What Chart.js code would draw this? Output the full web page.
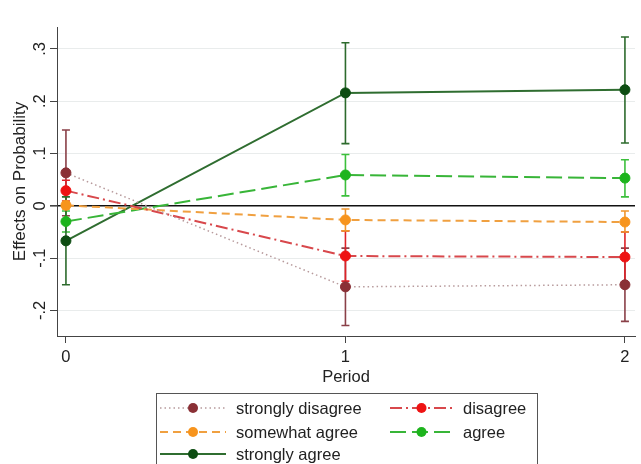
<!DOCTYPE html>
<html>
<head>
<meta charset="utf-8">
<script src="https://cdn.jsdelivr.net/npm/chart.js@4.4.1/dist/chart.umd.min.js"></script>
<style>
  html, body { margin: 0; padding: 0; background: #fff; }
  #wrap { width: 641px; height: 464px; position: relative; }
</style>
</head>
<body>
<div id="wrap"><canvas id="c" width="641" height="464"></canvas></div>
<script>
// Periods on the x axis and tick labels
const periods = [0, 1, 2];
const xTickLabels = ['0', '1', '2'];
const yTickValues = [-0.2, -0.1, 0, 0.1, 0.2, 0.3];
const yTickLabels = ['-.2', '-.1', '0', '.1', '.2', '.3'];

const seriesNames = ['strongly disagree', 'disagree', 'somewhat agree', 'agree', 'strongly agree'];

// Point estimates per period
const stronglyDisagree = [0.063, -0.155, -0.151];
const disagree         = [0.029, -0.096, -0.098];
const somewhatAgree    = [0.001, -0.027, -0.031];
const agree            = [-0.030, 0.059, 0.053];
const stronglyAgree    = [-0.067, 0.216, 0.222];

// Confidence interval bounds per period
const stronglyDisagreeLo = [-0.019, -0.229, -0.221];
const stronglyDisagreeHi = [0.145, -0.081, -0.081];
const disagreeLo         = [0.009, -0.144, -0.146];
const disagreeHi         = [0.049, -0.048, -0.050];
const somewhatAgreeLo    = [-0.006, -0.048, -0.050];
const somewhatAgreeHi    = [0.008, -0.006, -0.010];
const agreeLo            = [-0.050, 0.019, 0.017];
const agreeHi            = [-0.010, 0.098, 0.088];
const stronglyAgreeLo    = [-0.151, 0.119, 0.120];
const stronglyAgreeHi    = [0.017, 0.312, 0.323];

const styles = [
  { line: '#b79a9c', marker: '#8a3036', bar: '#8a4048', dash: [1.5, 3], width: 1.5 },
  { line: '#d8484c', marker: '#ee1313', bar: '#de2228', dash: [12, 4, 2, 4], width: 2 },
  { line: '#f0a040', marker: '#f7941d', bar: '#f0952b', dash: [8, 5], width: 2 },
  { line: '#38b538', marker: '#1db41d', bar: '#3cbf3c', dash: [16, 6], width: 2 },
  { line: '#2f6d30', marker: '#0d4d12', bar: '#2d6b2d', dash: [], width: 2 }
];

const values = [stronglyDisagree, disagree, somewhatAgree, agree, stronglyAgree];
const lows = [stronglyDisagreeLo, disagreeLo, somewhatAgreeLo, agreeLo, stronglyAgreeLo];
const highs = [stronglyDisagreeHi, disagreeHi, somewhatAgreeHi, agreeHi, stronglyAgreeHi];

const datasets = seriesNames.map((name, i) => ({
  label: name,
  data: periods.map((p, j) => ({ x: p, y: values[i][j] })),
  borderColor: styles[i].line,
  borderWidth: styles[i].width,
  borderDash: styles[i].dash,
  backgroundColor: styles[i].marker,
  pointBackgroundColor: styles[i].marker,
  pointBorderColor: styles[i].marker,
  pointRadius: 5,
  pointBorderWidth: 1,
  tension: 0,
  fill: false,
  order: i
}));

const FONT = "'Liberation Sans', Arial, sans-serif";
const FS = 16.5;
Chart.defaults.font.family = FONT;
Chart.defaults.font.size = FS;
Chart.defaults.color = '#222';

// Capped confidence bars, drawn under the markers
const errorBars = {
  id: 'errorBars',
  beforeDatasetsDraw(chart) {
    const { ctx, scales: { x, y } } = chart;
    ctx.save();
    values.forEach((_, i) => {
      ctx.strokeStyle = styles[i].bar;
      ctx.lineWidth = 1.6;
      ctx.setLineDash([]);
      periods.forEach((p, j) => {
        const px = x.getPixelForValue(p);
        const yl = y.getPixelForValue(lows[i][j]);
        const yh = y.getPixelForValue(highs[i][j]);
        ctx.beginPath();
        ctx.moveTo(px, yl); ctx.lineTo(px, yh);
        ctx.moveTo(px - 4, yl); ctx.lineTo(px + 4, yl);
        ctx.moveTo(px - 4, yh); ctx.lineTo(px + 4, yh);
        ctx.stroke();
      });
    });
    ctx.restore();
  }
};

// Vertical tick labels on the y axis
const yLabels = {
  id: 'yLabels',
  afterDraw(chart) {
    const { ctx, scales: { y } } = chart;
    ctx.save();
    ctx.font = FS + 'px ' + FONT;
    ctx.fillStyle = '#222';
    ctx.textAlign = 'center';
    ctx.textBaseline = 'middle';
    yTickValues.forEach((v, k) => {
      const py = y.getPixelForValue(v);
      ctx.save();
      ctx.translate(40, py);
      ctx.rotate(-Math.PI / 2);
      ctx.fillText(yTickLabels[k], 0, 0);
      ctx.restore();
    });
    ctx.restore();
  }
};

// Boxed two-column legend below the plot
const boxLegend = {
  id: 'boxLegend',
  afterDraw(chart) {
    const { ctx } = chart;
    ctx.save();
    ctx.strokeStyle = '#555';
    ctx.lineWidth = 1;
    ctx.setLineDash([]);
    ctx.strokeRect(156.5, 393.5, 381, 90);
    const cols = [{ x0: 160, x1: 226, tx: 236 }, { x0: 390, x1: 453, tx: 463 }];
    const rows = [408, 432, 454];
    ctx.font = FS + 'px ' + FONT;
    ctx.textBaseline = 'middle';
    ctx.textAlign = 'left';
    seriesNames.forEach((name, i) => {
      const c = cols[i % 2];
      const ry = rows[Math.floor(i / 2)];
      ctx.strokeStyle = styles[i].line;
      ctx.lineWidth = styles[i].width;
      ctx.setLineDash(styles[i].dash);
      ctx.beginPath();
      ctx.moveTo(c.x0, ry); ctx.lineTo(c.x1, ry);
      ctx.stroke();
      ctx.setLineDash([]);
      ctx.fillStyle = styles[i].marker;
      ctx.beginPath();
      ctx.arc((c.x0 + c.x1) / 2, ry, 5, 0, Math.PI * 2);
      ctx.fill();
      ctx.fillStyle = '#222';
      ctx.fillText(name, c.tx, ry + 1);
    });
    ctx.restore();
  }
};

new Chart(document.getElementById('c'), {
  type: 'line',
  data: { datasets },
  plugins: [errorBars, yLabels, boxLegend],
  options: {
    responsive: false,
    animation: false,
    devicePixelRatio: 1,
    layout: { padding: { left: 0, right: 5, top: 27, bottom: 77 } },
    plugins: { legend: { display: false }, tooltip: { enabled: false } },
    scales: {
      x: {
        type: 'linear',
        min: -0.032,
        max: 2.036,
        afterBuildTicks(scale) { scale.ticks = periods.map(v => ({ value: v })); },
        afterFit(scale) { scale.height = 51; },
        ticks: {
          padding: 5,
          font: { size: FS },
          color: '#222',
          callback: (v) => xTickLabels[periods.indexOf(v)]
        },
        grid: { drawOnChartArea: false, drawTicks: true, tickLength: 7, tickColor: '#444', tickWidth: 1 },
        border: { color: '#444', width: 1 },
        title: { display: true, text: 'Period', font: { size: FS }, color: '#222', padding: { top: 0, bottom: 0 } }
      },
      y: {
        type: 'linear',
        min: -0.249,
        max: 0.342,
        afterBuildTicks(scale) { scale.ticks = yTickValues.map(v => ({ value: v })); },
        afterFit(scale) { scale.width = 57; },
        ticks: { display: false },
        grid: {
          drawTicks: true,
          tickLength: 7,
          tickColor: '#444',
          color: (c) => (c.tick && Math.abs(c.tick.value) < 1e-9 ? '#111' : '#e9ecec'),
          lineWidth: (c) => (c.tick && Math.abs(c.tick.value) < 1e-9 ? 1.6 : 1)
        },
        border: { color: '#444', width: 1 },
        title: { display: true, text: 'Effects on Probability', font: { size: FS + 0.5 }, color: '#222', padding: { top: 10, bottom: 0 } }
      }
    }
  }
});
</script>
</body>
</html>
